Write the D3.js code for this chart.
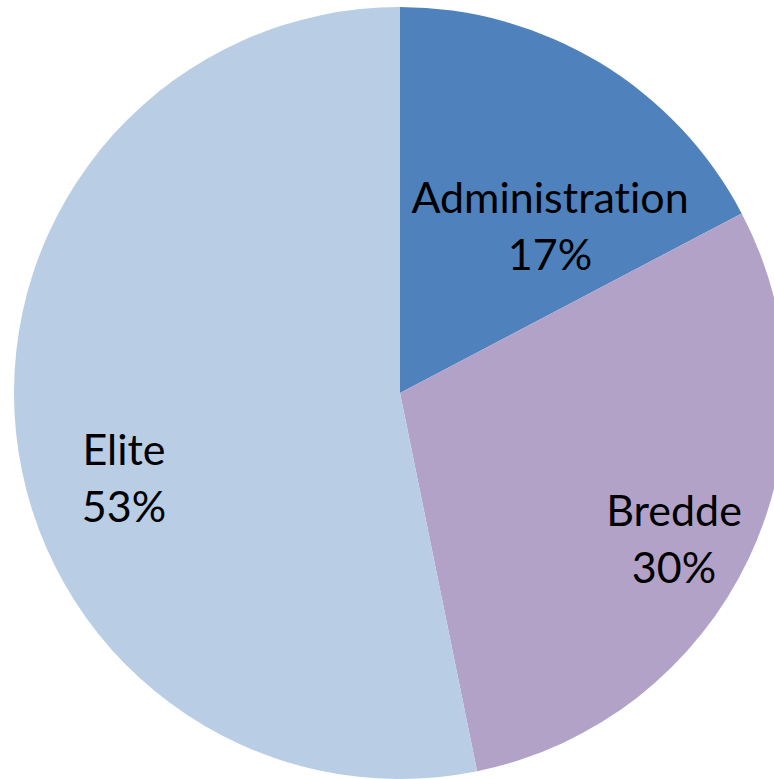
<!DOCTYPE html>
<html><head><meta charset="utf-8">
<script src="https://cdn.jsdelivr.net/npm/d3@7"></script>
<style>body{margin:0;background:#fff}svg{display:block}</style>
</head><body>
<script>
const categories = ["Administration", "Bredde", "Elite"];
const values = [17.3, 29.5, 53.2];
const percentLabels = ["17%", "30%", "53%"];
const colors = ["#4F81BD", "#B3A2C7", "#B9CDE5"];

const W = 774, H = 779, cx = 400, cy = 393, R = 386;
const svg = d3.select("body").append("svg").attr("width", W).attr("height", H);
const g = svg.append("g").attr("transform", `translate(${cx},${cy})`);
const pie = d3.pie().sort(null).value(d => d);
const arcs = pie(values);
const arc = d3.arc().innerRadius(0).outerRadius(R);
g.selectAll("path").data(arcs).join("path").attr("d", arc).attr("fill", (d,i) => colors[i]);

// label placement (layout), relative to pie centre: x centre, first-line baseline
const labelPos = [[150, -180], [274, 133], [-276, 72]];
const lineGap = 57;
const lab = g.selectAll("text").data(arcs).join("text")
  .attr("text-anchor", "middle")
  .attr("font-family", "Lato, 'Open Sans', sans-serif")
  .attr("font-size", 43)
  .style("font-variant-ligatures", "none")
  .attr("fill", "#000")
  .attr("transform", (d,i) => `translate(${labelPos[i][0]},${labelPos[i][1]})`);
lab.append("tspan").attr("x", 0).attr("y", 0).text((d,i) => categories[i]);
lab.append("tspan").attr("x", 0).attr("y", lineGap).text((d,i) => percentLabels[i]);
</script>
</body></html>
